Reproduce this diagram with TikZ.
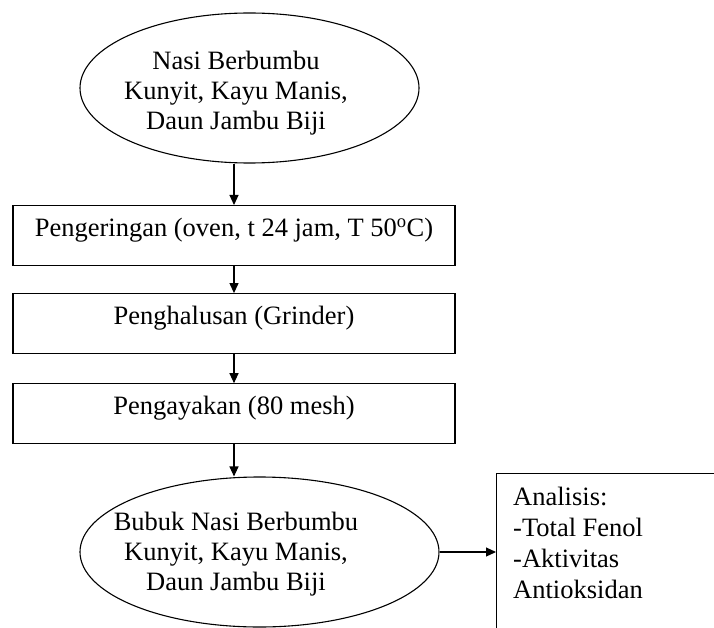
\documentclass[tikz,border=0pt]{standalone}
\usepackage{fontspec}
\setmainfont{Liberation Serif}
\usepackage{tikz}
\usetikzlibrary{positioning, shapes.geometric, arrows.meta}

\tikzset{
	oval/.style={draw, ellipse, line width=1.1pt, inner sep=0pt, minimum height=150pt},
	procbox/.style={draw, rectangle, line width=1.1pt, minimum width=442pt, inner xsep=0pt, inner ysep=0pt,
		text height=31pt, text depth=29pt, font=\fontsize{26.5}{30}\selectfont},
	ovaltext/.style={align=center, inner sep=0pt, font=\fontsize{26.5}{30}\selectfont},
	arr/.style={-{Triangle[length=10pt,width=9pt]}, line width=1.1pt},
}

\begin{document}
\begin{tikzpicture}[x=1pt, y=-1pt, node distance=27pt]
		\useasboundingbox (0,0) rectangle (714,628);
		\clip (0,0) rectangle (714,628);
		
		\node[oval, minimum width=339pt]           (nasi)    at (249.5,88) {};
		\node[ovaltext]                           (nasitxt) at (236,93)   {Nasi Berbumbu\\Kunyit, Kayu Manis,\\Daun Jambu Biji};
		
		\node[procbox, anchor=north]              (kering)  at (234,205) {Pengeringan (oven, t 24 jam, T 50\textsuperscript{o}C)};
		\node[procbox, below=27pt of kering]      (halus)   {Penghalusan (Grinder)};
		\node[procbox, below=29pt of halus]       (ayak)    {Pengayakan (80 mesh)};
		
		\node[oval, minimum width=359pt]           (bubuk)   at (259.5,552) {};
		\node[ovaltext]                           (bubuktxt) at (236,554) {Bubuk Nasi Berbumbu\\Kunyit, Kayu Manis,\\Daun Jambu Biji};
		
		\node[draw, rectangle, line width=1.1pt, anchor=north west, minimum width=300pt, minimum height=200pt] (analisis) at (496,473) {};
		\node[align=left, inner sep=0pt, anchor=north west, font=\fontsize{26.5}{31}\selectfont] (analisistxt) at (513,487)
			{Analisis:\\-Total Fenol\\-Aktivitas\\Antioksidan};
		
		\draw[arr] (kering.north |- nasi.south) -- (kering.north);
		\draw[arr] (kering) -- (halus);
		\draw[arr] (halus) -- (ayak);
		\draw[arr] (ayak.south) -- (ayak.south |- bubuk.north);
		\draw[arr] (bubuk.east) -- (bubuk.east -| analisis.west);
	\end{tikzpicture}
\end{document}
